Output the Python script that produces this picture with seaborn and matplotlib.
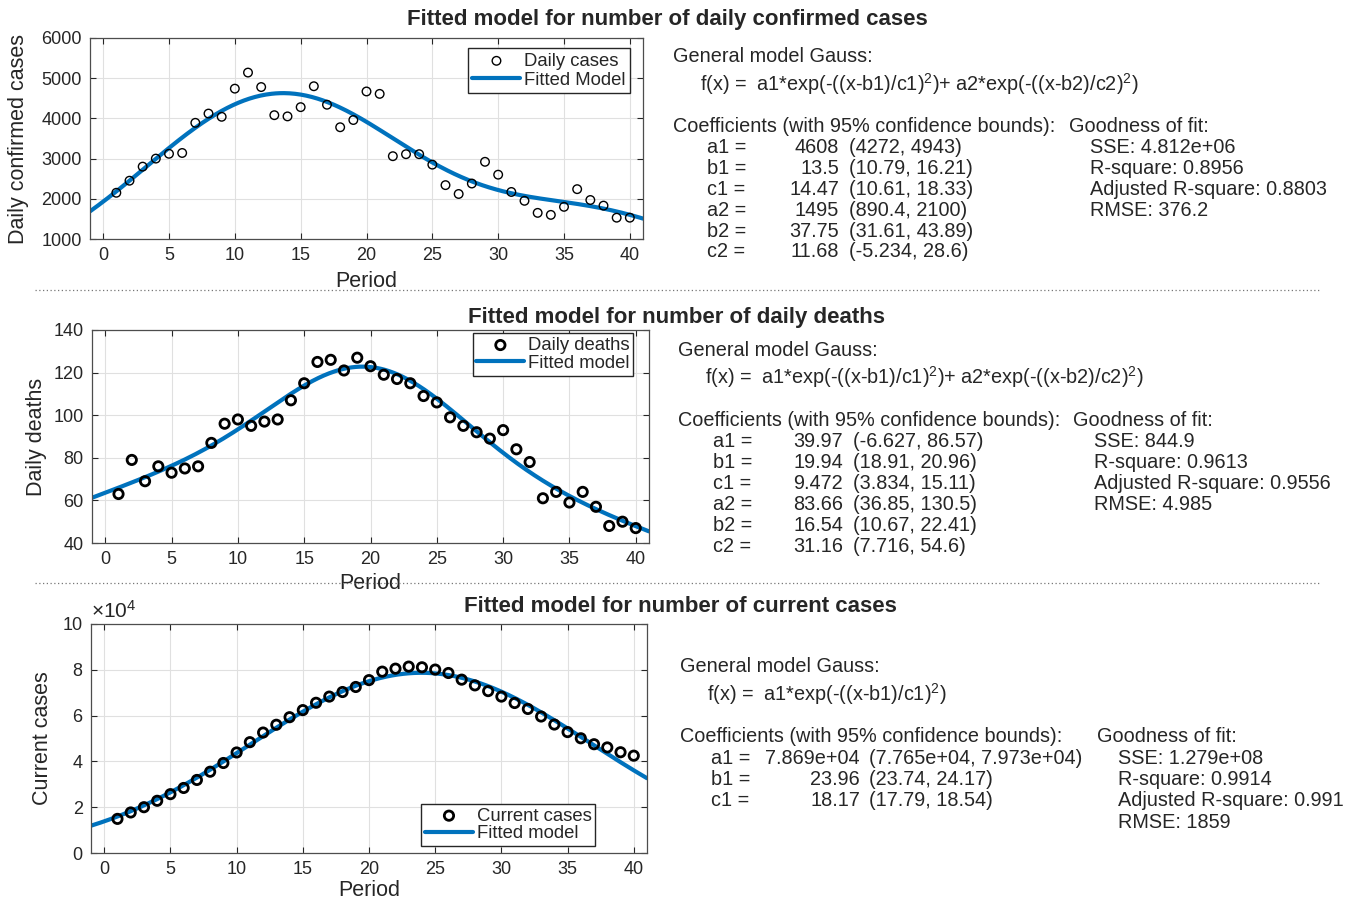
import numpy as np
import pandas as pd
import matplotlib
matplotlib.use("Agg")
import matplotlib.pyplot as plt
import seaborn as sns
from matplotlib.lines import Line2D
from matplotlib.ticker import FuncFormatter

# ---- data ----
period = list(range(1, 41))

daily_cases = [2150, 2450, 2800, 3000, 3120, 3140, 3890, 4120, 4040, 4740,
               5140, 4780, 4080, 4050, 4280, 4800, 4340, 3780, 3960, 4670,
               4610, 3060, 3110, 3110, 2850, 2340, 2120, 2380, 2920, 2600,
               2170, 1950, 1650, 1600, 1800, 2240, 1970, 1830, 1530, 1530]

daily_deaths = [63, 79, 69, 76, 73, 75, 76, 87, 96, 98,
                95, 97, 98, 107, 115, 125, 126, 121, 127, 123,
                119, 117, 115, 109, 106, 99, 95, 92, 89, 93,
                84, 78, 61, 64, 59, 64, 57, 48, 50, 47]

current_cases = [14900, 17700, 20000, 22800, 25700, 28400, 31900, 35500, 39300, 43900,
                 48400, 52600, 56000, 59300, 62400, 65600, 68300, 70300, 72500, 75500,
                 79200, 80500, 81400, 81100, 80100, 78600, 75700, 73200, 70700, 68300,
                 65500, 62900, 59600, 56100, 52800, 50100, 47500, 46100, 44000, 42500]

# fitted coefficients (as printed in the chart)
cases_coef = [4608, 13.5, 14.47, 1495, 37.75, 11.68]
deaths_coef = [39.97, 19.94, 9.472, 83.66, 16.54, 31.16]
current_coef = [78690, 23.96, 18.17]

cases_rows = [("a1 =", "4608", "(4272, 4943)"),
              ("b1 =", "13.5", "(10.79, 16.21)"),
              ("c1 =", "14.47", "(10.61, 18.33)"),
              ("a2 =", "1495", "(890.4, 2100)"),
              ("b2 =", "37.75", "(31.61, 43.89)"),
              ("c2 =", "11.68", "(-5.234, 28.6)")]
cases_gof = ["SSE: 4.812e+06", "R-square: 0.8956", "Adjusted R-square: 0.8803", "RMSE: 376.2"]

deaths_rows = [("a1 =", "39.97", "(-6.627, 86.57)"),
               ("b1 =", "19.94", "(18.91, 20.96)"),
               ("c1 =", "9.472", "(3.834, 15.11)"),
               ("a2 =", "83.66", "(36.85, 130.5)"),
               ("b2 =", "16.54", "(10.67, 22.41)"),
               ("c2 =", "31.16", "(7.716, 54.6)")]
deaths_gof = ["SSE: 844.9", "R-square: 0.9613", "Adjusted R-square: 0.9556", "RMSE: 4.985"]

current_rows = [("a1 =", "7.869e+04", "(7.765e+04, 7.973e+04)"),
                ("b1 =", "23.96", "(23.74, 24.17)"),
                ("c1 =", "18.17", "(17.79, 18.54)")]
current_gof = ["SSE: 1.279e+08", "R-square: 0.9914", "Adjusted R-square: 0.991", "RMSE: 1859"]

gauss2 = "f(x) =  a1*exp(-((x-b1)/c1)$^{2}$)+ a2*exp(-((x-b2)/c2)$^{2}$)"
gauss1 = "f(x) =  a1*exp(-((x-b1)/c1)$^{2}$)"


def gauss(x, coef):
    y = np.zeros_like(x)
    for i in range(0, len(coef), 3):
        a, b, c = coef[i:i + 3]
        y = y + a * np.exp(-((x - b) / c) ** 2)
    return y


# ---- style ----
sns.set_style("ticks")
plt.rcParams['font.family'] = ['Liberation Sans', 'DejaVu Sans']
plt.rcParams['mathtext.fontset'] = 'custom'
plt.rcParams['mathtext.rm'] = 'Liberation Sans'
plt.rcParams['mathtext.it'] = 'Liberation Sans'
plt.rcParams['font.size'] = 13

BLUE = '#0072BD'
TXT = 14.3
W, H = 1353, 901

fig = plt.figure(figsize=(13.53, 9.01), dpi=100)


def px(x, y):
    return x / W, 1 - y / H


def make_ax(left, top, right, bottom):
    return fig.add_axes([left / W, 1 - bottom / H, (right - left) / W, (bottom - top) / H])


def style_ax(ax, ylabel, ylab_x, xlab_y):
    ax.set_xlim(-1, 41)
    ax.set_xticks(range(0, 41, 5))
    ax.grid(True, color='#e0e0e0', lw=0.8)
    ax.set_axisbelow(True)
    ax.tick_params(direction='in', length=4, width=0.8, top=True, right=True,
                   labelsize=13, colors='#262626', pad=6)
    for s in ax.spines.values():
        s.set_color('#4d4d4d')
        s.set_linewidth(0.9)
    ax.set_xlabel("Period", fontsize=15.5, color='#262626')
    ax.set_ylabel(ylabel, fontsize=15.5, color='#262626')
    ax.yaxis.set_label_coords(ylab_x, 0.5)
    ax.xaxis.set_label_coords(0.5, xlab_y)
    ax.xaxis.label.set_va('center')
    ax.yaxis.label.set_va('center')


def text_block(x0, y0, fx_str, rows, gof, lab_x, val_x, bnd_x, gof_x, gof_x2, dy):
    fig.text(*px(x0, y0), "General model Gauss:", fontsize=TXT, va='center')
    fig.text(*px(x0 + 27, y0 + 27), fx_str, fontsize=TXT, va='center')
    yc = y0 + 70
    fig.text(*px(x0, yc), "Coefficients (with 95% confidence bounds):", fontsize=TXT, va='center')
    fig.text(*px(gof_x, yc), "Goodness of fit:", fontsize=TXT, va='center')
    for i, (lab, val, bnd) in enumerate(rows):
        y = yc + dy * (i + 1)
        fig.text(*px(lab_x, y), lab, fontsize=TXT, va='center')
        fig.text(*px(val_x, y), val, fontsize=TXT, va='center', ha='right')
        fig.text(*px(bnd_x, y), bnd, fontsize=TXT, va='center')
    for i, g in enumerate(gof):
        fig.text(*px(gof_x2, yc + dy * (i + 1)), g, fontsize=TXT, va='center')


xfit = np.linspace(-1, 41, 400)

# ---- panel 1: daily confirmed cases ----
ax1 = make_ax(90, 38, 643, 239)
df1 = pd.DataFrame({"Period": period, "Cases": daily_cases})
sns.lineplot(x=xfit, y=gauss(xfit, cases_coef), ax=ax1, color=BLUE, lw=3,
             label="Fitted Model", zorder=2)
sns.scatterplot(data=df1, x="Period", y="Cases", ax=ax1, marker='o', s=38,
                facecolor='none', edgecolor='black', linewidth=1.0,
                label="Daily cases", zorder=3)
ax1.set_ylim(1000, 6000)
ax1.set_yticks(range(1000, 6001, 1000))
style_ax(ax1, "Daily confirmed cases", -0.13, -0.21)
h, l = ax1.get_legend_handles_labels()
ax1.legend(h[::-1], l[::-1], loc='upper right', bbox_to_anchor=(0.977, 0.95),
           fontsize=13.3, frameon=True, fancybox=False, edgecolor='#262626',
           framealpha=1, borderpad=0.25, handlelength=2.6, handletextpad=0.2,
           labelspacing=0.1, borderaxespad=0)

# ---- panel 2: daily deaths ----
ax2 = make_ax(92, 330, 649, 543)
df2 = pd.DataFrame({"Period": period, "Deaths": daily_deaths})
sns.lineplot(x=xfit, y=gauss(xfit, deaths_coef), ax=ax2, color=BLUE, lw=3,
             label="Fitted model", zorder=2)
sns.scatterplot(data=df2, x="Period", y="Deaths", ax=ax2, marker='o', s=45,
                facecolor='none', edgecolor='black', linewidth=2.0,
                label="Daily deaths", zorder=3)
ax2.set_ylim(40, 140)
ax2.set_yticks(range(40, 141, 20))
style_ax(ax2, "Daily deaths", -0.10, -0.19)
h, l = ax2.get_legend_handles_labels()
ax2.legend(h[::-1], l[::-1], loc='upper right', bbox_to_anchor=(0.972, 0.985),
           fontsize=13.3, frameon=True, fancybox=False, edgecolor='#262626',
           framealpha=1, borderpad=0.2, handlelength=2.6, handletextpad=0.2,
           labelspacing=0.05, borderaxespad=0)

# ---- panel 3: current cases ----
ax3 = make_ax(91, 624, 647, 853)
df3 = pd.DataFrame({"Period": period, "Current": current_cases})
sns.lineplot(x=xfit, y=gauss(xfit, current_coef), ax=ax3, color=BLUE, lw=3,
             label="Fitted model", zorder=2)
sns.scatterplot(data=df3, x="Period", y="Current", ax=ax3, marker='o', s=45,
                facecolor='none', edgecolor='black', linewidth=2.0,
                label="Current cases", zorder=3)
ax3.set_ylim(0, 100000)
ax3.set_yticks(range(0, 100001, 20000))
ax3.yaxis.set_major_formatter(FuncFormatter(lambda v, p: f"{v / 1e4:g}"))
ax3.text(0.0, 1.008, r"$\times10^{4}$", transform=ax3.transAxes, fontsize=15,
         ha='left', va='bottom', color='#262626')
style_ax(ax3, "Current cases", -0.088, -0.162)
h, l = ax3.get_legend_handles_labels()
ax3.legend(h[::-1], l[::-1], loc='lower left', bbox_to_anchor=(0.594, 0.03),
           fontsize=13.3, frameon=True, fancybox=False, edgecolor='#262626',
           framealpha=1, borderpad=0.2, handlelength=2.6, handletextpad=0.2,
           labelspacing=0.05, borderaxespad=0)

# ---- titles ----
fig.text(*px(667, 19), "Fitted model for number of daily confirmed cases",
         fontsize=16, fontweight='bold', ha='center', va='center')
fig.text(*px(676, 317), "Fitted model for number of daily deaths",
         fontsize=16, fontweight='bold', ha='center', va='center')
fig.text(*px(680, 606), "Fitted model for number of current cases",
         fontsize=16, fontweight='bold', ha='center', va='center')

# ---- separators ----
for ysep in (290, 583):
    fig.add_artist(Line2D([35 / W, 1320 / W], [1 - ysep / H] * 2,
                          transform=fig.transFigure, color='#777777',
                          lw=0.9, ls=(0, (1, 2))))

# ---- fit reports ----
text_block(673, 57, gauss2, cases_rows, cases_gof,
           707, 839, 849, 1069, 1090, 20.8)
text_block(678, 350, gauss2, deaths_rows, deaths_gof,
           713, 843, 853, 1073, 1094, 21.1)
text_block(680, 667, gauss1, current_rows, current_gof,
           711, 860, 869, 1097, 1118, 21.3)

fig.savefig("out.png", dpi=100)
